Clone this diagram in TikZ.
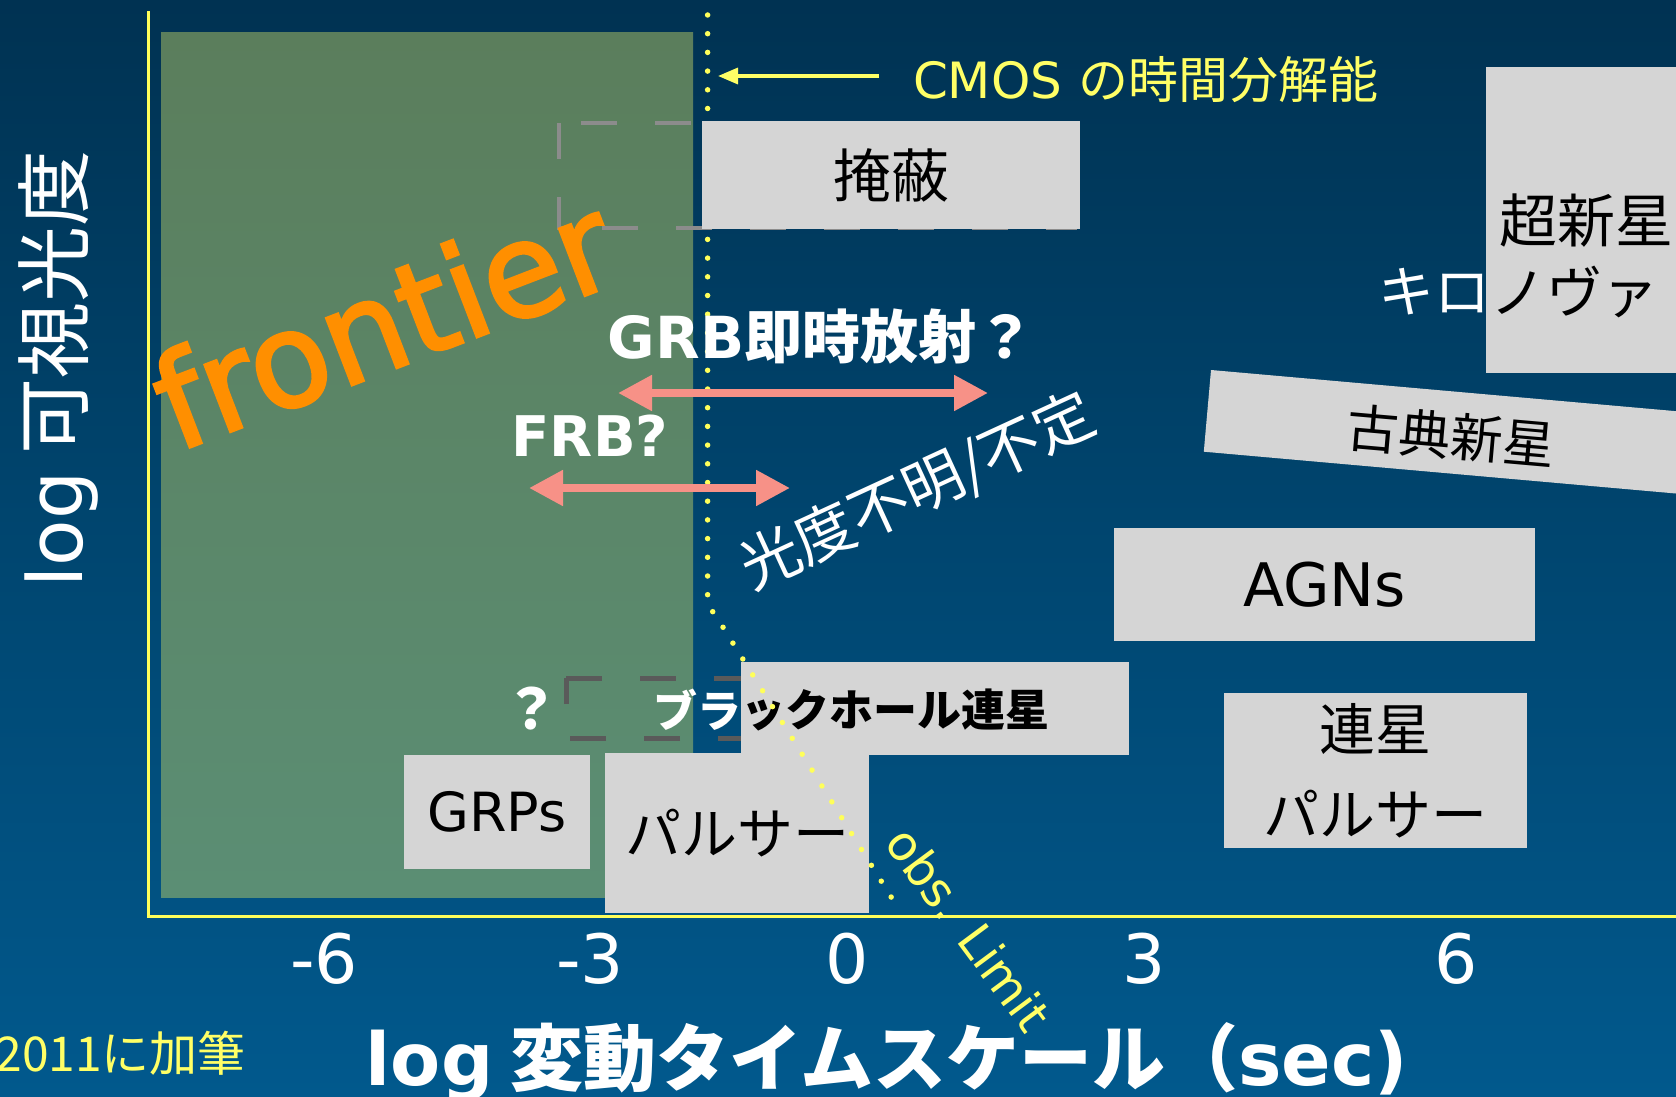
\documentclass[tikz,border=0pt]{standalone}
\usepackage{fontspec}
\setmainfont{DejaVu Sans}
\newfontfamily\jp{Noto Sans CJK JP}
\newfontfamily\lat{DejaVu Sans}
\newfontfamily\latfb[FakeBold=2.5]{DejaVu Sans}
\usetikzlibrary{arrows.meta}
\newcommand\fsz[1]{\fontsize{#1}{#1}\selectfont}
\definecolor{bgtop}{RGB}{0,30,52}
\definecolor{bgmid}{RGB}{0,70,112}
\definecolor{bgbot}{RGB}{3,108,170}
\definecolor{grtop}{RGB}{92,118,80}
\definecolor{grbot}{RGB}{90,150,128}
\definecolor{boxgray}{RGB}{213,213,213}
\definecolor{dashgray}{RGB}{140,140,140}
\definecolor{dashdark}{RGB}{90,90,90}
\definecolor{axisyellow}{RGB}{255,255,90}
\definecolor{dotyellow}{RGB}{255,255,90}
\definecolor{txtyellow}{RGB}{255,255,102}
\definecolor{salmon}{RGB}{247,145,135}
\definecolor{frontorange}{RGB}{255,143,0}
\pgfdeclareverticalshading{bgshade}{100bp}{color(0bp)=(bgbot); color(50bp)=(bgmid); color(100bp)=(bgtop)}
\pgfdeclareverticalshading{greenshade}{100bp}{color(0bp)=(grbot); color(100bp)=(grtop)}
\begin{document}
\begin{tikzpicture}[x=0.5pt,y=-0.5pt,
  lbl/.style={inner sep=0pt, outer sep=0pt},
  box/.style={fill=boxgray, inner sep=0pt, outer sep=0pt, text=black},
  dblarrow/.style={draw=salmon, line width=4pt, {Triangle[length=17pt,width=17pt]}-{Triangle[length=17pt,width=17pt]}},
  cmosarrow/.style={draw=txtyellow, line width=1.65pt, -{Triangle[length=10pt,width=8pt]}},
  dotline/.style={draw=dotyellow, line width=2.75pt, line cap=round, dash pattern=on 0pt off 9.35pt},
  axisline/.style={draw=axisyellow, line width=1.5pt},
  dashbox/.style={line width=2pt, dash pattern=on 18pt off 19pt},
  ticklbl/.style={lbl, text=white, font=\lat\fsz{34pt}}]
\useasboundingbox (0,0) rectangle (1676,1097);
\clip (0,0) rectangle (1676,1097);
% background
\shade[shading=bgshade] (0,0) rectangle (1676,1097);
\shade[shading=greenshade] (161,33) rectangle (693,897);
% axes
\coordinate (ytop) at (148.5,11);
\coordinate (origin) at (148.5,916);
\coordinate (xend) at (1676,916);
\draw[axisline] (ytop) -- (origin) -- (xend);
% dashed outlines
\draw[dashbox, draw=dashgray] (559,123) rectangle (1075,228);
\draw[dashbox, draw=dashdark, line width=2.5pt] (566,678) -- (1000,678) -- (1000,738) -- (566,738) -- cycle;
% frontier
\node[lbl, rotate=21, text=frontorange, font=\latfb\fsz{65pt}] (front) at (383,321) {frontier};
% lower boxes
\node[box, minimum width=194pt, minimum height=46.5pt] (bhbox) at (935,708.5) {};
\node[box, minimum width=93pt, minimum height=57pt, font=\lat\fsz{27pt}] (grps) at (497,812) {GRPs};
\node[box, minimum width=132pt, minimum height=80pt, font=\jp\fsz{28pt}] (pulsar) at (737,833) {パルサー};
\node[lbl, anchor=east, text=white, font=\jp\bfseries\fsz{22pt}] (bhA) at (741,710) {ブラ};
\node[lbl, anchor=west, text=black, font=\jp\bfseries\fsz{22pt}] (bhB) at (741,710) {ックホール連星};
\node[lbl, text=white, font=\jp\bfseries\fsz{28pt}] (qmark) at (531,709) {？};
% right boxes
\node[box, minimum width=210.5pt, minimum height=56.5pt, font=\lat\fsz{30pt}] (agn) at (1324.5,584.5) {AGNs};
\node[box, minimum width=151.5pt, minimum height=77.5pt, align=center, font=\jp\fontsize{28pt}{42.5pt}\selectfont] (binpsr) at (1375.5,770.5) {連星\\パルサー};
\fill[boxgray] (1211,370) -- (1709,414.1) -- (1701.8,495.8) -- (1203.8,451.7) -- cycle;
\node[lbl, rotate=-5, text=black, font=\jp\fsz{26pt}] (nova) at (1451,436) {古典新星};
\node[box, minimum width=107pt, minimum height=153pt] (snbox) at (1593,220) {};
\node[lbl, text=black, font=\jp\fsz{29pt}] (sn) at (1586,221) {超新星};
\node[lbl, anchor=east, text=white, font=\jp\fsz{28pt}] (kiro) at (1490,292) {キロ};
\node[lbl, anchor=west, text=black, font=\jp\fsz{28pt}] (nova2) at (1490,292) {ノヴァ};
% observation limit dotted line
\draw[dotline] (707.6,15) -- (707.6,605) -- (716,616) -- (898,908);
% occultation box
\node[box, minimum width=189pt, minimum height=54pt, font=\jp\fsz{29pt}] (occ) at (891,175) {掩蔽};
% CMOS
\node[lbl, anchor=west, text=txtyellow, font=\jp\fsz{25pt}] (cmos) at (913,80) {{\lat CMOS }の時間分解能};
\coordinate (cmostail) at (879,76);
\coordinate (cmostip) at (718,76);
\draw[cmosarrow] (cmostail) -- (cmostip);
% GRB / FRB
\node[lbl, text=white, font=\jp\bfseries\fsz{29pt}] (grb) at (821,337) {{\lat GRB}即時放射？};
\node[lbl, text=white, font=\lat\bfseries\fsz{28pt}] (frb) at (590,436) {FRB?};
\coordinate (grbL) at (618,393);
\coordinate (grbR) at (988,393);
\draw[dblarrow] (grbL) -- (grbR);
\coordinate (frbL) at (529,488);
\coordinate (frbR) at (790,488);
\draw[dblarrow] (frbL) -- (frbR);
% rotated labels
\node[lbl, rotate=24.7, text=white, font=\jp\fsz{30pt}] (lumi) at (918,492) {光度不明/不定};
\node[lbl, rotate=-53.4, text=txtyellow, font=\lat\fsz{24pt}] (obs) at (969,929) {obs. Limit};
% ticks
\node[ticklbl] (tm6) at (324,959) {-6};
\node[ticklbl] (tm3) at (590,959) {-3};
\node[ticklbl] (t0) at (847,959) {0};
\node[ticklbl] (t3) at (1144,959) {3};
\node[ticklbl] (t6) at (1456,959) {6};
% axis labels
\node[lbl, anchor=base, rotate=90, text=white, font=\jp\fsz{38pt}] (ylab) at (82,369) {{\lat log} 可視光度};
\node[lbl, anchor=base, text=white, font=\jp\bfseries\fsz{36.5pt}] (xlab) at (887,1085) {{\lat log} 変動タイムスケール（{\lat sec)}};
\node[lbl, anchor=east, text=txtyellow, font=\jp\fsz{24pt}] (note) at (246,1053) {2011に加筆};
\end{tikzpicture}
\end{document}
